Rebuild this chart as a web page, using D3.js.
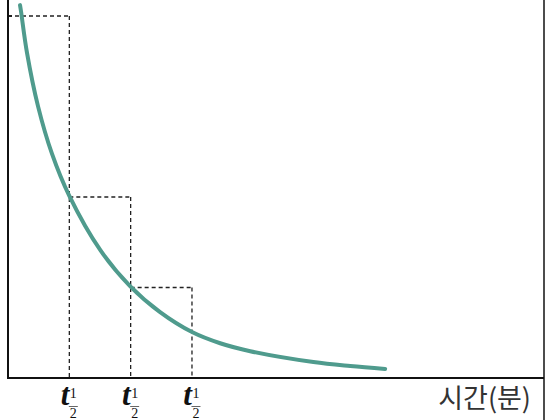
<!DOCTYPE html>
<html>
<head>
<meta charset="utf-8">
<script src="https://cdn.jsdelivr.net/npm/d3@7"></script>
<style>
  html, body { margin: 0; padding: 0; background: #fff; }
  svg { display: block; }
</style>
</head>
<body>
<svg id="chart" width="554" height="420"></svg>
<script>
// ---- data ----
// time in half-life units, amount in % of initial
const curveTime   = [0.196, 0.212, 0.31, 0.489, 0.718, 1.0, 1.506, 1.99, 2.48, 3.0, 3.46, 3.95, 4.98, 5.58, 6.15];
const curveAmount = [103.0, 101.3, 89.8, 75.1, 61.9, 50.3, 35.3, 25.4, 18.2, 12.7, 9.6, 7.4, 4.4, 3.3, 2.5];
const halfLifeTimes = [1, 2, 3];
const halfLifeLevels = [100, 50, 25];
const tickMain = "t";
const tickNum = "1";
const tickDen = "2";
const xAxisTitle = "시간(분)";

// ---- layout ----
const svg = d3.select("#chart");
const x = d3.scaleLinear().domain([0, 8.74]).range([8, 544]);
const y = d3.scaleLinear().domain([0, 100]).range([378, 16]);

// dashed half-life boxes
const dash = svg.append("g")
  .attr("fill", "none")
  .attr("stroke", "#222")
  .attr("stroke-width", 1.3)
  .attr("stroke-dasharray", "4,3");

halfLifeTimes.forEach((t, i) => {
  const lvl = halfLifeLevels[i];
  dash.append("line")
    .attr("x1", x(t - 1)).attr("x2", x(t))
    .attr("y1", y(lvl)).attr("y2", y(lvl));
  dash.append("line")
    .attr("x1", x(t)).attr("x2", x(t))
    .attr("y1", y(lvl)).attr("y2", y(0));
});

// curve
const pts = curveTime.map((t, i) => [t, curveAmount[i]]);
svg.append("path")
  .datum(pts)
  .attr("fill", "none")
  .attr("stroke", "#4f9b8d")
  .attr("stroke-width", 4)
  .attr("stroke-linecap", "round")
  .attr("d", d3.line().x(d => x(d[0])).y(d => y(d[1])).curve(d3.curveCatmullRom.alpha(0.5)));

// axes
svg.append("line")
  .attr("x1", x(0)).attr("x2", x(0))
  .attr("y1", 0).attr("y2", y(0) + 1)
  .attr("stroke", "#111").attr("stroke-width", 2);
svg.append("line")
  .attr("x1", x(0) - 1).attr("x2", x.range()[1])
  .attr("y1", y(0)).attr("y2", y(0))
  .attr("stroke", "#111").attr("stroke-width", 2);
svg.append("line")
  .attr("x1", x(0)).attr("x2", x(0) + 4)
  .attr("y1", y(100)).attr("y2", y(100))
  .attr("stroke", "#111").attr("stroke-width", 1.5);
svg.append("line")
  .attr("x1", x.range()[1]).attr("x2", x.range()[1])
  .attr("y1", 0).attr("y2", 420)
  .attr("stroke", "#111").attr("stroke-width", 1.5);

// tick labels t_{1/2}
const ticks = svg.append("g");
halfLifeTimes.forEach(t => {
  const g = ticks.append("g").attr("transform", `translate(${x(t)},0)`);
  g.append("text")
    .attr("x", 0).attr("y", 405)
    .attr("text-anchor", "end")
    .attr("font-family", "'Liberation Serif', 'DejaVu Serif', serif")
    .attr("font-style", "italic").attr("font-weight", "bold")
    .attr("font-size", 31).attr("fill", "#111")
    .text(tickMain);
  g.append("text")
    .attr("x", 4).attr("y", 398)
    .attr("text-anchor", "middle")
    .attr("font-family", "'Liberation Serif', 'DejaVu Serif', serif")
    .attr("font-size", 14).attr("fill", "#111")
    .text(tickNum);
  g.append("line")
    .attr("x1", -0.5).attr("x2", 8.5)
    .attr("y1", 406.5).attr("y2", 406.5)
    .attr("stroke", "#555").attr("stroke-width", 0.9);
  g.append("text")
    .attr("x", 4).attr("y", 417.5)
    .attr("text-anchor", "middle")
    .attr("font-family", "'Liberation Serif', 'DejaVu Serif', serif")
    .attr("font-size", 14).attr("fill", "#111")
    .text(tickDen);
});

// axis title
svg.append("text")
  .attr("x", 531).attr("y", 408)
  .attr("text-anchor", "end")
  .attr("font-family", "'Noto Sans CJK KR', 'Noto Sans', sans-serif")
  .attr("font-size", 27).attr("fill", "#333")
  .text(xAxisTitle);
</script>
</body>
</html>
